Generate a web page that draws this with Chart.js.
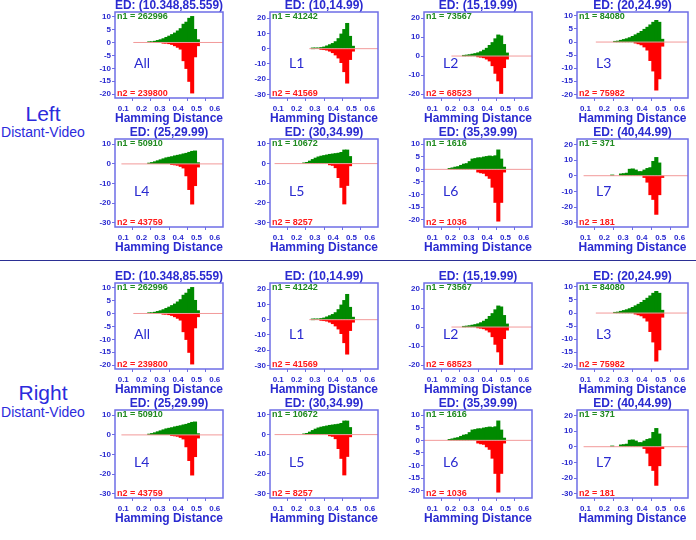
<!DOCTYPE html>
<html>
<head>
<meta charset="utf-8">
<script src="https://cdn.jsdelivr.net/npm/chart.js@4.4.0/dist/chart.umd.min.js"></script>
<style>
body { margin:0; background:#fff; width:696px; height:540px; position:relative; overflow:hidden; font-family:"Liberation Sans", Arial, sans-serif; }
canvas { position:absolute; }
.side { position:absolute; left:0; width:86px; text-align:center; color:#2b2bdc; line-height:1; }
.big { font-size:21px; }
.small { font-size:14px; }
#sep { position:absolute; left:0; top:260px; width:696px; height:0; border-top:1.5px solid #2b2f94; }
</style>
</head>
<body>
<div class="side big" style="top:103px">Left</div>
<div class="side small" style="top:125px">Distant-Video</div>
<div id="sep"></div>
<div class="side big" style="top:382px">Right</div>
<div class="side small" style="top:405px">Distant-Video</div>
<script>
// hamming distance in bits (of 64), one histogram bin each
var hdBits = [10,11,12,13,14,15,16,17,18,19,20,21,22,23,24,25,26,27,28,29,30,31,32,33,34]

var panelLabels = ['All','L1','L2','L3','L4','L5','L6','L7']
var edTitles = ['ED: (10.348,85.559)','ED: (10,14.99)','ED: (15,19.99)','ED: (20,24.99)',
                'ED: (25,29.99)','ED: (30,34.99)','ED: (35,39.99)','ED: (40,44.99)']
var n1Counts = [262996, 41242, 73567, 84080, 50910, 10672, 1616, 371]
var n2Counts = [239800, 41569, 68523, 75982, 43759, 8257, 1036, 181]

var yMin  = [-21.5, -32.4, -22.1, -21.4, -32.2, -32.2, -22.8, -32.7]
var yMax  = [ 11.8,  24.1,  23.2,  11.5,  12.7,  12.5,  12.0,  23.4]
var yStep = [5, 10, 10, 5, 10, 10, 5, 10]
var zeroLineStart = [0.155, 0.27, 0.205, 0.155, 0.09, 0.08, 0.05, 0.09]

var greenAll = [0,0,0,0,0,0.1,0.2,0.4,0.7,1.0,1.4,1.9,2.4,3.0,3.6,4.4,5.3,7.0,7.8,9.3,10.0,5.0,1.0,0,0]
var redAll   = [0,0,0,0,0,0,0,0,0,0,-0.1,-0.2,-0.4,-0.7,-1.2,-1.8,-2.5,-7,-10,-15,-19.5,-5.5,-1.2,0,0]
var greenL1  = [0,0,0,0,0,0,0,0,0.1,0.2,0.3,0.6,1.0,1.7,2.5,3.3,4.5,6.5,9.5,12.5,16.5,8,1.5,0,0]
var redL1    = [0,0,0,0,0,0,0,0,0,0,0,-0.3,-0.5,-0.8,-1.5,-2.5,-4,-6,-9,-15,-22.5,-7,-1.5,0,0]
var greenL2  = [0,0,0,0,0,0,0,0.2,0.4,0.6,0.9,1.2,1.6,2.2,3.0,4.0,5.5,7.0,9.0,11,10.5,6,1.5,0,0]
var redL2    = [0,0,0,0,0,0,0,0,0,0,0,0,-0.3,-0.5,-0.8,-1.5,-2.5,-5,-9,-13,-19.6,-6,-1.5,0,0]
var greenL3  = [0,0,0,0,0,0,0.2,0.3,0.6,0.9,1.2,1.6,2.1,2.7,3.3,4.0,4.8,5.6,6.5,7.5,8.2,7.5,1.0,0,0]
var redL3    = [0,0,0,0,0,0,0,0,0,0,0,0,0,-0.3,-0.6,-1.0,-1.8,-3,-7,-11,-18.3,-14,-1.5,0,0]
var greenL4  = [0,0,0,0,0,0.3,0.6,1.0,1.5,2.0,2.5,3.0,3.3,3.6,4.0,4.3,4.6,5.0,5.3,5.8,6.3,6.5,0.5,0,0]
var redL4    = [0,0,0,0,0,0,0,0,0,0,0,0,0,-0.2,-0.4,-0.6,-1.2,-2,-6,-13,-20.4,-11,-1.5,0,0]
var greenL5  = [0,0,0,0,0,0.2,0.5,1.2,2.0,2.7,3.3,3.7,4.0,4.3,4.6,4.8,5.0,5.2,5.6,6.8,6.8,3.5,0,0,0]
var redL5    = [0,0,0,0,0,0,0,0,0,0,0,0,0,0,-0.5,-0.8,-2,-7,-12,-20.4,-11,-1,0,0,0]
var greenL6  = [0,0,0.3,0.5,0.8,1.0,1.5,2.0,2.2,3.0,4.0,4.2,4.5,4.5,4.8,5.0,5.2,5.0,5.3,7.6,4.0,0.8,0,0,0]
var redL6    = [0,0,0,0,0,0,0,0,0,0,0,0,-1.0,-1.3,-1.5,-2.5,-3.5,-7,-13,-20.4,-13,-1,0,0,0]
var greenL7  = [0,0,0,0,0,0.3,0,0,1,1.2,1.5,4,4.2,3.5,2.5,2.5,3.5,4.5,5,9,11.5,8,0,0,0]
var redL7    = [0,0,0,0,0,0,0,0,0,0,0,0,0,0,0,0,-1,-4,-12,-15,-24.5,-12,-1,0,0]

var greenSeries = [greenAll, greenL1, greenL2, greenL3, greenL4, greenL5, greenL6, greenL7]
var redSeries   = [redAll, redL1, redL2, redL3, redL4, redL5, redL6, redL7]

// layout of the grid (pixels)
var boxLefts = [115, 270, 424, 577]
var boxWidths = [108, 108, 108, 111]
var rowTops = [12, 139, 283, 410]
var rowHeights = [86, 88, 86, 88]

var BLUE = '#2a2ad0'
var FRAME = '#6e6ee6'
var Y_AXIS_W = 26, TITLE_H = 15, X_AXIS_H = 28, PAD_R = 4

Chart.defaults.font.family = '"Liberation Sans", Arial, sans-serif'

// empty bins are left out so no bar is drawn there
function toPoints(values){
   var pts = []
   for (var i = 0; i < hdBits.length; i++) {
      pts.push({x: (hdBits[i] + 0.5) / 64, y: values[i] === 0 ? null : values[i]})
   }
   return pts
}

// box around the plot, counts and panel name
var framePlugin = {
   id: 'frame',
   afterDraw(chart, args, opts) {
      var a = chart.chartArea, c = chart.ctx
      c.save()
      c.strokeStyle = FRAME
      c.lineWidth = 1.5
      c.strokeRect(a.left, a.top, a.right - a.left, a.bottom - a.top)
      c.font = 'bold 9px "Liberation Sans", Arial'
      c.textBaseline = 'middle'
      c.fillStyle = '#1f8a1f'
      c.fillText('n1 = ' + opts.n1, a.left + 2, a.top + 4.5)
      c.fillStyle = '#ff1a1a'
      c.fillText('n2 = ' + opts.n2, a.left + 2, a.bottom - 4.5)
      c.font = '14px Lato, "Liberation Sans", Arial'
      c.fillStyle = BLUE
      c.fillText(opts.label, a.left + 19, a.top + (a.bottom - a.top) * 0.6)
      c.restore()
   }
}

function makePanel(p, side){
   var col = p % 4
   var row = Math.floor(p / 4) + side * 2
   var w = boxWidths[col] + Y_AXIS_W + PAD_R
   var h = rowHeights[row] + TITLE_H + X_AXIS_H
   var cv = document.createElement('canvas')
   cv.width = w
   cv.height = h
   cv.style.left = (boxLefts[col] - Y_AXIS_W) + 'px'
   cv.style.top = (rowTops[row] - TITLE_H) + 'px'
   document.body.appendChild(cv)

   var tickFont = {size: 8, weight: 'bold'}
   new Chart(cv, {
      type: 'bar',
      data: {
         datasets: [
            {type: 'line', data: [{x: zeroLineStart[p], y: 0}, {x: 0.645, y: 0}],
             borderColor: '#f29a9a', borderWidth: 1, pointRadius: 0, order: 0},
            {data: toPoints(greenSeries[p]), backgroundColor: '#008a00', grouped: false,
             barPercentage: 1, categoryPercentage: 1, inflateAmount: 0.6, order: 1},
            {data: toPoints(redSeries[p]), backgroundColor: '#ff0000', grouped: false,
             barPercentage: 1, categoryPercentage: 1, inflateAmount: 0.6, order: 1}
         ]
      },
      options: {
         responsive: false,
         animation: false,
         devicePixelRatio: 1,
         layout: {padding: {right: PAD_R}},
         plugins: {
            legend: {display: false},
            tooltip: {enabled: false},
            title: {display: true, fullSize: false, text: edTitles[p], color: BLUE,
                    font: {size: 12, weight: 'bold', lineHeight: 1}, padding: {top: 3, bottom: 0}},
            frame: {n1: n1Counts[p], n2: n2Counts[p], label: panelLabels[p]}
         },
         scales: {
            x: {
               type: 'linear', min: 0.055, max: 0.645, offset: false,
               afterFit: function(s){ s.height = X_AXIS_H },
               grid: {drawOnChartArea: false, drawTicks: true, tickLength: 3, color: FRAME},
               border: {display: false},
               ticks: {stepSize: 0.1, includeBounds: false, autoSkip: false, maxRotation: 0,
                       color: BLUE, font: tickFont, padding: 2.5,
                       callback: function(v){ return v.toFixed(1) }},
               title: {display: true, text: 'Hamming Distance', color: BLUE,
                       font: {size: 12, weight: 'bold'}, padding: 0}
            },
            y: {
               min: yMin[p], max: yMax[p],
               afterFit: function(s){ s.width = Y_AXIS_W },
               grid: {drawOnChartArea: false, drawTicks: true, tickLength: 3, color: FRAME},
               border: {display: false},
               ticks: {stepSize: yStep[p], includeBounds: false, color: BLUE, font: tickFont, padding: 1}
            }
         }
      },
      plugins: [framePlugin]
   })
}

for (var s = 0; s < 2; s++) {
   for (var p = 0; p < 8; p++) {
      makePanel(p, s)
   }
}
</script>
</body>
</html>
